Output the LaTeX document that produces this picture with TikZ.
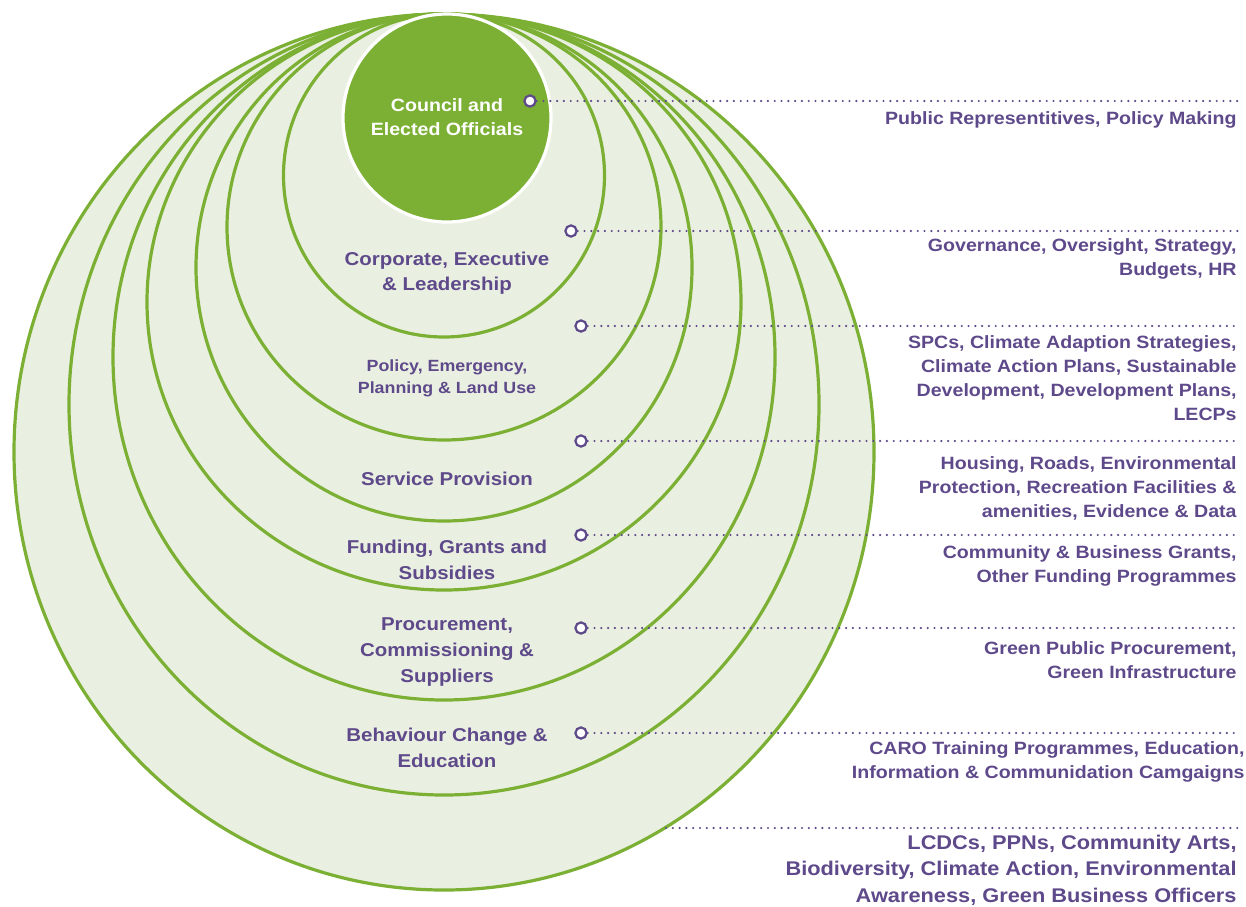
\documentclass[tikz,border=0pt]{standalone}
\usepackage{fontspec}
\setmainfont[FakeStretch=1.1]{Liberation Sans}
\usetikzlibrary{positioning}
\definecolor{leafgreen}{RGB}{124,176,52}
\definecolor{palegreen}{RGB}{234,240,225}
\definecolor{roleviolet}{RGB}{94,73,138}

\tikzset{
  ring/.style={draw=leafgreen, line width=1.6pt},
  layer/.style={font=\bfseries\fontsize{9.3}{12.8}\selectfont, text=roleviolet, align=center},
  pin/.style={circle, draw=roleviolet, fill=white, line width=1.1pt, minimum size=5.6pt, inner sep=0pt},
  leader/.style={roleviolet, line width=1.2pt, line cap=round, dash pattern=on 0pt off 3.4pt},
  duty/.style={font=\bfseries\fontsize{8.9}{12}\selectfont, text=roleviolet, align=right, anchor=east, inner sep=0pt}
}

\begin{document}
\begin{tikzpicture}[x=0.5pt, y=-0.5pt]
%\draw[help lines] (0,0) grid (1246,906);
\useasboundingbox (0,0) rectangle (1246,906);

% rings, outside in
\fill[palegreen] (444,452) ellipse [x radius=430, y radius=438];
\draw[ring] (444,452) ellipse [x radius=430, y radius=438];
\draw[ring] (444,404.5) ellipse [x radius=375, y radius=390.5];
\draw[ring] (444,357) ellipse [x radius=331, y radius=343];
\draw[ring] (444,302) ellipse [x radius=297, y radius=288];
\draw[ring] (444,267.5) ellipse [x radius=248, y radius=253.5];
\draw[ring] (444,227) ellipse [x radius=217, y radius=213];
\draw[ring] (444,175.5) ellipse [x radius=160.5, y radius=161.5];
\draw[white, line width=1.6pt, fill=leafgreen] (447,118) circle [radius=104];

\node[layer, text=white, font=\bfseries\fontsize{8.9}{12}\selectfont] (council) at (447,117) {Council and\\Elected Officials};
\node[layer] (corporate) at (447,273) {Corporate, Executive\\\& Leadership};
\node[layer, font=\bfseries\fontsize{8.1}{11}\selectfont] (policy) at (447,378) {Policy, Emergency,\\Planning \& Land Use};
\node[layer] (service) at (447,479) {Service Provision};
\node[layer] (funding) at (447,560) {Funding, Grants and\\Subsidies};
\node[layer] (procure) at (447,652) {Procurement,\\Commissioning \&\\Suppliers};
\node[layer] (behaviour) at (447,748) {Behaviour Change \&\\Education};

\node[pin] (p1) at (530,101) {};
\node[pin] (p2) at (571,231) {};
\node[pin] (p3) at (581,326) {};
\node[pin] (p4) at (581,441) {};
\node[pin] (p5) at (581,535) {};
\node[pin] (p6) at (581,628) {};
\node[pin] (p7) at (581,733) {};
\coordinate (s8) at (666,828);

\coordinate (e1) at (1240,101);
\coordinate (e2) at (1240,231);
\coordinate (e3) at (1240,326);
\coordinate (e4) at (1240,441);
\coordinate (e5) at (1240,535);
\coordinate (e6) at (1240,628);
\coordinate (e7) at (1240,733);
\coordinate (e8) at (1240,828);

\draw[leader] (p1) -- (e1);
\draw[leader] (p2) -- (e2);
\draw[leader] (p3) -- (e3);
\draw[leader] (p4) -- (e4);
\draw[leader] (p5) -- (e5);
\draw[leader] (p6) -- (e6);
\draw[leader] (p7) -- (e7);
\draw[leader] (s8) -- (e8);

\node[duty] (d1) at (1237,120) {Public Representitives, Policy Making};
\node[duty] (d2) at (1237,259) {Governance, Oversight, Strategy,\\Budgets, HR};
\node[duty] (d3) at (1237,378) {SPCs, Climate Adaption Strategies,\\Climate Action Plans, Sustainable\\Development, Development Plans,\\LECPs};
\node[duty] (d4) at (1237,488) {Housing, Roads, Environmental\\Protection, Recreation Facilities \&\\amenities, Evidence \& Data};
\node[duty] (d5) at (1237,566) {Community \& Business Grants,\\Other Funding Programmes};
\node[duty] (d6) at (1237,660) {Green Public Procurement,\\Green Infrastructure};
\node[duty] (d7) at (1245,762) {CARO Training Programmes, Education,\\Information \& Communidation Camgaigns};
\node[duty, font=\bfseries\fontsize{9.9}{13.2}\selectfont] (d8) at (1237,870) {LCDCs, PPNs, Community Arts,\\Biodiversity, Climate Action, Environmental\\Awareness, Green Business Officers};
\end{tikzpicture}
\end{document}
